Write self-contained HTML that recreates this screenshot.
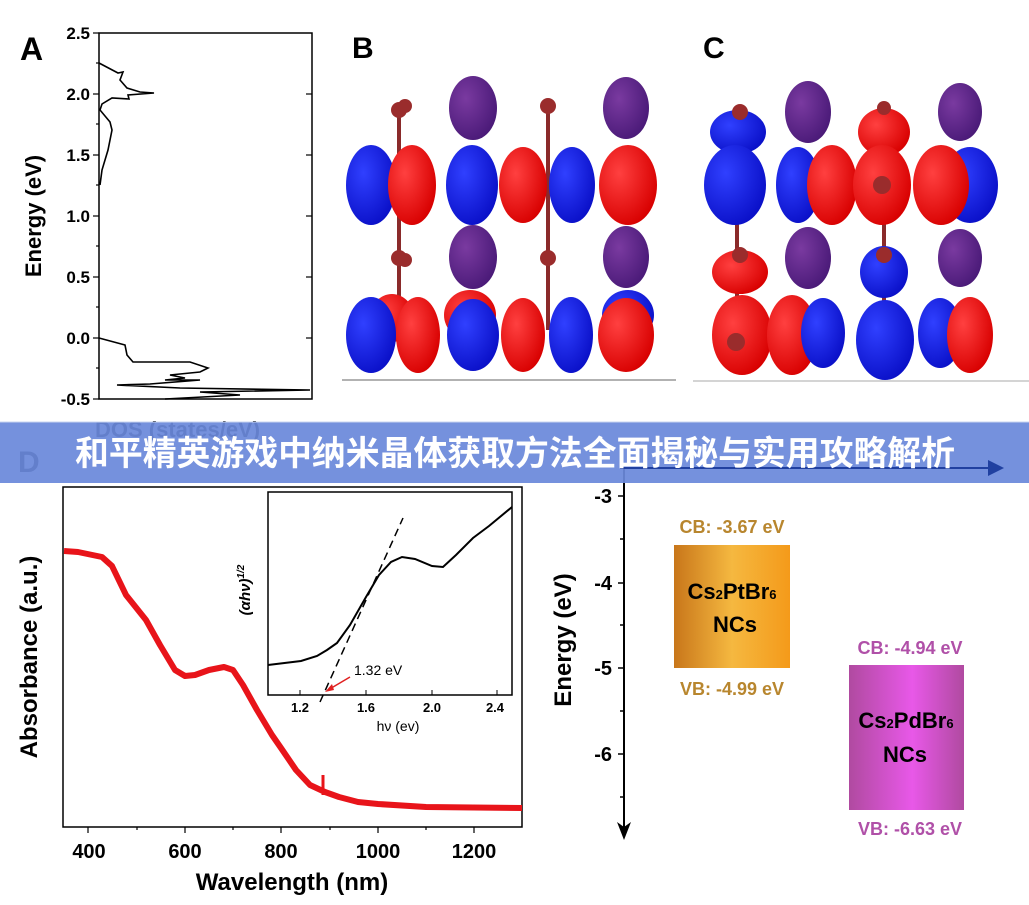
<!DOCTYPE html>
<html><head><meta charset="utf-8"><style>
html,body{margin:0;padding:0;background:#fff;}
svg{display:block;font-family:"Liberation Sans",Arial,sans-serif;}
</style></head><body>
<svg width="1029" height="905" viewBox="0 0 1029 905" xmlns="http://www.w3.org/2000/svg">
<defs>
<linearGradient id="og" x1="0" x2="1"><stop offset="0" stop-color="#c8761a"/><stop offset="0.5" stop-color="#f5b840"/><stop offset="1" stop-color="#f49a1a"/></linearGradient>
<linearGradient id="pg" x1="0" x2="1"><stop offset="0" stop-color="#b04aa0"/><stop offset="0.55" stop-color="#e858e8"/><stop offset="1" stop-color="#b04aa0"/></linearGradient>
<radialGradient id="rb" cx="0.35" cy="0.35" r="0.7"><stop offset="0" stop-color="#ff4040"/><stop offset="1" stop-color="#d80000"/></radialGradient>
<radialGradient id="bb" cx="0.35" cy="0.35" r="0.7"><stop offset="0" stop-color="#3040ff"/><stop offset="1" stop-color="#0a10c8"/></radialGradient>
<radialGradient id="pp" cx="0.35" cy="0.35" r="0.7"><stop offset="0" stop-color="#7a3aa0"/><stop offset="1" stop-color="#4a1a78"/></radialGradient>
</defs>

<!-- Panel A -->
<text x="20" y="60" font-size="32" font-weight="bold">A</text>
<rect x="99" y="33" width="213" height="366" fill="none" stroke="#000" stroke-width="1.5"/>
<g font-size="17" font-weight="bold" text-anchor="end">
<text x="90" y="39">2.5</text><text x="90" y="100">2.0</text><text x="90" y="161">1.5</text><text x="90" y="222">1.0</text><text x="90" y="283">0.5</text><text x="90" y="344">0.0</text><text x="90" y="405">-0.5</text>
</g>
<g stroke="#000" stroke-width="1.2">
<line x1="93" y1="33" x2="99" y2="33"/><line x1="93" y1="94" x2="99" y2="94"/><line x1="93" y1="155" x2="99" y2="155"/><line x1="93" y1="216" x2="99" y2="216"/><line x1="93" y1="277" x2="99" y2="277"/><line x1="93" y1="338" x2="99" y2="338"/><line x1="93" y1="399" x2="99" y2="399"/>
<line x1="96" y1="63" x2="99" y2="63"/><line x1="96" y1="124" x2="99" y2="124"/><line x1="96" y1="185" x2="99" y2="185"/><line x1="96" y1="246" x2="99" y2="246"/><line x1="96" y1="307" x2="99" y2="307"/><line x1="96" y1="368" x2="99" y2="368"/>
<line x1="306" y1="94" x2="312" y2="94"/><line x1="306" y1="155" x2="312" y2="155"/><line x1="306" y1="216" x2="312" y2="216"/><line x1="306" y1="277" x2="312" y2="277"/><line x1="306" y1="338" x2="312" y2="338"/>
</g>
<text transform="translate(41,216) rotate(-90)" font-size="22" font-weight="bold" text-anchor="middle">Energy (eV)</text>
<polyline fill="none" stroke="#000" stroke-width="1.6" points="99,63 118,73 123,72 120,80 127,88 140,92 154,93 128,95 129,99 112,98 102,104 100,110 110,122 112,130 108,150 102,170 100,185"/>
<polyline fill="none" stroke="#000" stroke-width="1.6" points="99,338 125,345 127,355 133,362 190,362 208,368 200,372 170,375 185,378 165,380 200,380 150,384 117,385 180,388 310,390 200,392 240,395 165,399"/>

<!-- Panel B -->
<text x="352" y="58" font-size="30" font-weight="bold">B</text>
<line x1="342" y1="380" x2="676" y2="380" stroke="#999" stroke-width="1.5"/>
<g fill="url(#pp)">
<ellipse cx="473" cy="108" rx="24" ry="32"/><ellipse cx="626" cy="108" rx="23" ry="31"/>
<ellipse cx="473" cy="257" rx="24" ry="32"/><ellipse cx="626" cy="257" rx="23" ry="31"/>
</g>
<g stroke="#8a2a2a" stroke-width="4"><line x1="399" y1="110" x2="399" y2="330"/><line x1="548" y1="108" x2="548" y2="330"/></g>
<g fill="#9a2c2c"><circle cx="399" cy="110" r="8"/><circle cx="405" cy="106" r="7"/><circle cx="548" cy="106" r="8"/><circle cx="399" cy="258" r="8"/><circle cx="405" cy="260" r="7"/><circle cx="548" cy="258" r="8"/></g>
<g>
<ellipse cx="371" cy="185" rx="25" ry="40" fill="url(#bb)"/><ellipse cx="412" cy="185" rx="24" ry="40" fill="url(#rb)"/>
<ellipse cx="472" cy="185" rx="26" ry="40" fill="url(#bb)"/><ellipse cx="523" cy="185" rx="24" ry="38" fill="url(#rb)"/>
<ellipse cx="572" cy="185" rx="23" ry="38" fill="url(#bb)"/><ellipse cx="628" cy="185" rx="29" ry="40" fill="url(#rb)"/>
<ellipse cx="470" cy="315" rx="26" ry="25" fill="url(#rb)"/><ellipse cx="628" cy="315" rx="26" ry="25" fill="url(#bb)"/><ellipse cx="392" cy="318" rx="22" ry="24" fill="url(#rb)"/>
<ellipse cx="371" cy="335" rx="25" ry="38" fill="url(#bb)"/><ellipse cx="418" cy="335" rx="22" ry="38" fill="url(#rb)"/>
<ellipse cx="473" cy="335" rx="26" ry="36" fill="url(#bb)"/><ellipse cx="523" cy="335" rx="22" ry="37" fill="url(#rb)"/>
<ellipse cx="571" cy="335" rx="22" ry="38" fill="url(#bb)"/><ellipse cx="626" cy="335" rx="28" ry="37" fill="url(#rb)"/>
</g>

<!-- Panel C -->
<text x="703" y="58" font-size="30" font-weight="bold">C</text>
<line x1="693" y1="381" x2="1029" y2="381" stroke="#bbb" stroke-width="1.2"/>
<g fill="url(#pp)">
<ellipse cx="808" cy="112" rx="23" ry="31"/><ellipse cx="960" cy="112" rx="22" ry="29"/>
<ellipse cx="808" cy="258" rx="23" ry="31"/><ellipse cx="960" cy="258" rx="22" ry="29"/>
</g>
<g stroke="#8a2a2a" stroke-width="4"><line x1="737" y1="110" x2="737" y2="330"/><line x1="884" y1="110" x2="884" y2="330"/></g>
<ellipse cx="738" cy="132" rx="28" ry="22" fill="url(#bb)"/><circle cx="740" cy="112" r="8" fill="#9a2c2c"/>
<ellipse cx="884" cy="132" rx="26" ry="24" fill="url(#rb)"/><circle cx="884" cy="108" r="7" fill="#9a2c2c"/>
<ellipse cx="740" cy="272" rx="28" ry="22" fill="url(#rb)"/><circle cx="740" cy="255" r="8" fill="#9a2c2c"/>
<ellipse cx="884" cy="272" rx="24" ry="26" fill="url(#bb)"/><circle cx="884" cy="255" r="8" fill="#9a2c2c"/>
<ellipse cx="735" cy="185" rx="31" ry="40" fill="url(#bb)"/><ellipse cx="798" cy="185" rx="22" ry="38" fill="url(#bb)"/>
<ellipse cx="832" cy="185" rx="25" ry="40" fill="url(#rb)"/><ellipse cx="882" cy="185" rx="29" ry="40" fill="url(#rb)"/><circle cx="882" cy="185" r="9" fill="#9a2c2c"/>
<ellipse cx="970" cy="185" rx="28" ry="38" fill="url(#bb)"/><ellipse cx="941" cy="185" rx="28" ry="40" fill="url(#rb)"/>
<ellipse cx="742" cy="335" rx="30" ry="40" fill="url(#rb)"/><circle cx="736" cy="342" r="9" fill="#9a2c2c"/>
<ellipse cx="792" cy="335" rx="25" ry="40" fill="url(#rb)"/><ellipse cx="823" cy="333" rx="22" ry="35" fill="url(#bb)"/>
<ellipse cx="885" cy="340" rx="29" ry="40" fill="url(#bb)"/><ellipse cx="940" cy="333" rx="22" ry="35" fill="url(#bb)"/>
<ellipse cx="970" cy="335" rx="23" ry="38" fill="url(#rb)"/>

<!-- Panel D left -->
<text x="95" y="437" font-size="22" font-weight="bold" fill="#000">DOS (states/eV)</text>
<text x="18" y="472" font-size="30" font-weight="bold">D</text>
<rect x="63" y="487" width="459" height="340" fill="none" stroke="#000" stroke-width="1.5"/>
<g stroke="#000" stroke-width="1.2">
<line x1="88" y1="827" x2="88" y2="833"/><line x1="185" y1="827" x2="185" y2="833"/><line x1="281" y1="827" x2="281" y2="833"/><line x1="378" y1="827" x2="378" y2="833"/><line x1="474" y1="827" x2="474" y2="833"/>
<line x1="137" y1="827" x2="137" y2="830"/><line x1="233" y1="827" x2="233" y2="830"/><line x1="330" y1="827" x2="330" y2="830"/><line x1="426" y1="827" x2="426" y2="830"/>
</g>
<g font-size="20" font-weight="bold" text-anchor="middle">
<text x="89" y="858">400</text><text x="185" y="858">600</text><text x="281" y="858">800</text><text x="378" y="858">1000</text><text x="474" y="858">1200</text>
</g>
<text x="292" y="890" font-size="24" font-weight="bold" text-anchor="middle">Wavelength (nm)</text>
<text transform="translate(37,657) rotate(-90)" font-size="24" font-weight="bold" text-anchor="middle">Absorbance (a.u.)</text>
<polyline fill="none" stroke="#e8141a" stroke-width="6" stroke-linejoin="round" points="64,551 78,552 102,557 112,566 126,595 146,620 160,645 175,670 185,676 195,675 209,670 224,667 233,670 243,685 257,710 272,735 281,748 296,770 310,785 325,792 339,797 358,802 378,804 426,807 522,808"/>
<line x1="323" y1="775" x2="323" y2="795" stroke="#e8141a" stroke-width="3"/>

<!-- Inset -->
<rect x="268" y="492" width="244" height="203" fill="#fff" stroke="#000" stroke-width="1.5"/>
<g stroke="#000" stroke-width="1"><line x1="300" y1="695" x2="300" y2="690"/><line x1="366" y1="695" x2="366" y2="690"/><line x1="432" y1="695" x2="432" y2="690"/><line x1="497" y1="695" x2="497" y2="690"/></g>
<g font-size="13" font-weight="bold" text-anchor="middle"><text x="300" y="712">1.2</text><text x="366" y="712">1.6</text><text x="432" y="712">2.0</text><text x="495" y="712">2.4</text></g>
<text x="398" y="731" font-size="14" text-anchor="middle">hν (ev)</text>
<text transform="translate(250,590) rotate(-90)" font-size="15" font-style="italic" font-weight="bold" text-anchor="middle">(αhν)<tspan font-size="10" dy="-6">1/2</tspan></text>
<polyline fill="none" stroke="#000" stroke-width="2" points="268,665 301,661 317,656 327,650 337,643 350,625 366,597 379,575 391,562 402,557 415,559 432,566 443,567 456,555 473,538 489,526 512,507"/>
<line x1="320" y1="702" x2="403" y2="518" stroke="#000" stroke-width="1.5" stroke-dasharray="8,5"/>
<line x1="350" y1="677" x2="328" y2="690" stroke="#e02020" stroke-width="1.5"/>
<polygon points="325,692 332,684 334,690" fill="#e02020"/>
<text x="354" y="675" font-size="14">1.32 eV</text>

<!-- Panel D right -->
<line x1="624" y1="468" x2="624" y2="828" stroke="#000" stroke-width="2"/>
<polygon points="617,822 624,840 631,822 624,827" fill="#000"/>
<line x1="620" y1="468" x2="995" y2="468" stroke="#2040a0" stroke-width="2"/>
<polygon points="988,460 1004,468 988,476" fill="#2040a0"/>
<g stroke="#000" stroke-width="1.5"><line x1="618" y1="496" x2="624" y2="496"/><line x1="618" y1="583" x2="624" y2="583"/><line x1="618" y1="668" x2="624" y2="668"/><line x1="618" y1="754" x2="624" y2="754"/>
<line x1="620" y1="539" x2="624" y2="539"/><line x1="620" y1="625" x2="624" y2="625"/><line x1="620" y1="711" x2="624" y2="711"/><line x1="620" y1="797" x2="624" y2="797"/></g>
<g font-size="20" font-weight="bold" text-anchor="end"><text x="612" y="503">-3</text><text x="612" y="590">-4</text><text x="612" y="675">-5</text><text x="612" y="761">-6</text></g>
<text transform="translate(571,640) rotate(-90)" font-size="24" font-weight="bold" text-anchor="middle">Energy (eV)</text>
<rect x="674" y="545" width="116" height="123" fill="url(#og)"/>
<text x="732" y="533" font-size="18" font-weight="bold" fill="#b8862e" text-anchor="middle">CB: -3.67 eV</text>
<text x="732" y="695" font-size="18" font-weight="bold" fill="#b8862e" text-anchor="middle">VB: -4.99 eV</text>
<text x="732" y="599" font-size="22" font-weight="bold" text-anchor="middle">Cs<tspan font-size="13">2</tspan>PtBr<tspan font-size="13">6</tspan></text>
<text x="735" y="632" font-size="22" font-weight="bold" text-anchor="middle">NCs</text>
<rect x="849" y="665" width="115" height="145" fill="url(#pg)"/>
<text x="910" y="654" font-size="18" font-weight="bold" fill="#b050a8" text-anchor="middle">CB: -4.94 eV</text>
<text x="910" y="835" font-size="18" font-weight="bold" fill="#b050a8" text-anchor="middle">VB: -6.63 eV</text>
<text x="906" y="728" font-size="22" font-weight="bold" text-anchor="middle">Cs<tspan font-size="13">2</tspan>PdBr<tspan font-size="13">6</tspan></text>
<text x="905" y="762" font-size="22" font-weight="bold" text-anchor="middle">NCs</text>

<!-- Banner -->
<rect x="0" y="422" width="1029" height="61" fill="#6a89da" opacity="0.93"/>
<line x1="0" y1="422" x2="1029" y2="422" stroke="#c8d4f0" stroke-width="1"/>
<line x1="620" y1="468" x2="995" y2="468" stroke="#2040a0" stroke-width="2"/>
<polygon points="988,460 1004,468 988,476" fill="#2040a0"/>
<text x="515" y="465" font-size="34" font-weight="bold" fill="#fff" text-anchor="middle" textLength="880" lengthAdjust="spacingAndGlyphs" font-family="'Liberation Sans','Noto Sans CJK SC',sans-serif">和平精英游戏中纳米晶体获取方法全面揭秘与实用攻略解析</text>
</svg>
</body></html>
